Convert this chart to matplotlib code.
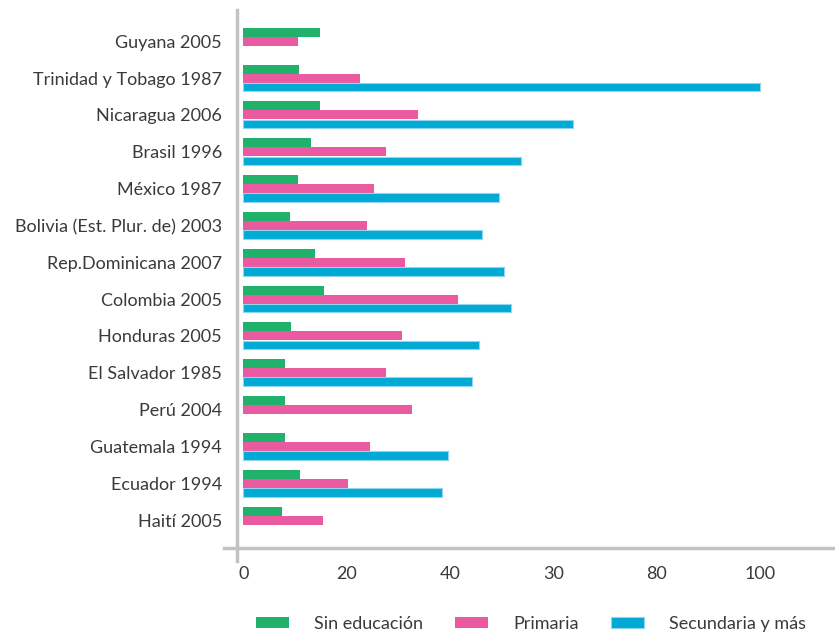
import numpy as np
import matplotlib.pyplot as plt
from matplotlib.lines import Line2D

# data
countries = ["Guyana 2005", "Trinidad y Tobago 1987", "Nicaragua 2006", "Brasil 1996",
             "México 1987", "Bolivia (Est. Plur. de) 2003", "Rep.Dominicana 2007",
             "Colombia 2005", "Honduras 2005", "El Salvador 1985", "Perú 2004",
             "Guatemala 1994", "Ecuador 1994", "Haití 2005"]
sin_educacion = [14.9, 10.8, 14.9, 13.0, 10.6, 9.1, 13.9, 15.7, 9.3, 8.1, 8.1, 8.1, 11.0, 7.5]
primaria = [10.6, 22.6, 33.8, 27.7, 25.3, 24.0, 31.3, 41.6, 30.8, 27.7, 32.7, 24.6, 20.3, 15.5]
secundaria = [0, 100, 63.8, 53.8, 49.5, 46.2, 50.5, 51.8, 45.6, 44.3, 0, 39.7, 38.5, 0]
xticks = [0, 20, 40, 60, 80, 100]
xticklabels = ["0", "20", "40", "30", "80", "100"]
series_names = ["Sin educación", "Primaria", "Secundaria y más"]

GREEN = "#20b26b"
PINK = "#ea5aa0"
BLUE = "#00aad4"
GRAY = "#c2c2c6"
TXT = "#3a3a3a"

plt.rcParams['font.family'] = ['Lato', 'DejaVu Sans']

fig = plt.figure(figsize=(8.35, 6.34), dpi=100)
ax = fig.add_axes([0.284, 0.1356, 0.716, 0.848])

y = np.arange(len(countries))
h = 0.245
ax.barh(y - h, sin_educacion, height=h, color=GREEN, label=series_names[0])
ax.barh(y, primaria, height=h, color=PINK, label=series_names[1])
sec = np.array(secundaria, dtype=float)
mask = sec > 0
ax.barh(y[mask] + h, sec[mask], height=h * 0.95, color=BLUE, edgecolor="#8fd6ee",
        linewidth=0.8, label=series_names[2])

ax.set_ylim(len(countries) - 1 + 0.76, -0.84)
ax.set_xlim(-1.2, 114.5)

ax.set_yticks(y)
ax.set_yticklabels(countries, fontsize=13, color=TXT)
ax.set_xticks(xticks)
ax.set_xticklabels(xticklabels, fontsize=13, color=TXT)
ax.tick_params(axis='both', length=0)
ax.tick_params(axis='y', pad=11)
ax.tick_params(axis='x', pad=13)

for sp in ax.spines.values():
    sp.set_visible(False)

# axis lines, crossing at the origin like the reference
ax.add_line(Line2D([-0.022, 1.0], [0, 0], transform=ax.transAxes, color=GRAY,
                   lw=2.5, clip_on=False))
ax.add_line(Line2D([0, 0], [-0.024, 1.0], transform=ax.transAxes, color=GRAY,
                   lw=2.5, clip_on=False))

fig.legend(loc='center', bbox_to_anchor=(0.636, 0.016), ncol=3, frameon=False,
           fontsize=13, handlelength=1.8, handleheight=0.6, columnspacing=1.8,
           handletextpad=1.4, labelcolor=TXT)

fig.savefig("out.png", dpi=100)
